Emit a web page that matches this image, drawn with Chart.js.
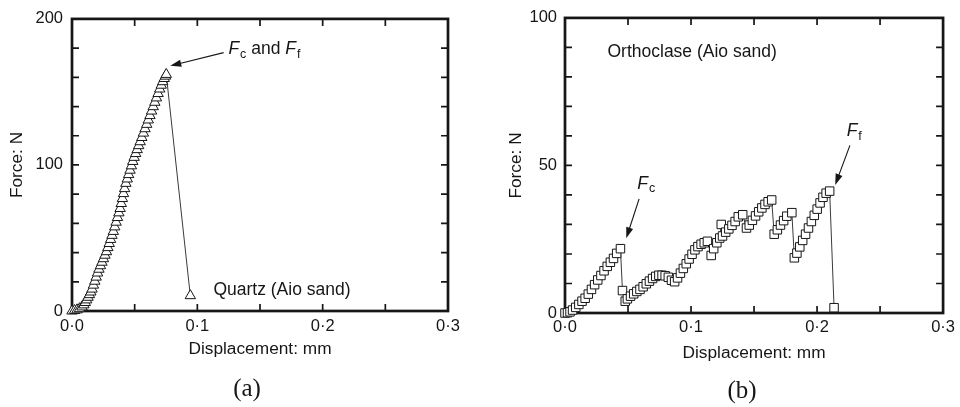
<!DOCTYPE html>
<html><head><meta charset="utf-8">
<script src="https://cdn.jsdelivr.net/npm/chart.js@4.4.0/dist/chart.umd.min.js"></script>
<style>
html,body{margin:0;padding:0;background:#fff;}
#wrap{position:relative;width:960px;height:407px;overflow:hidden;background:#fff;}
canvas{position:absolute;top:0;}
#ca{left:0;} #cb{left:480px;}
</style></head><body>
<div id="wrap"><canvas id="ca" width="480" height="407"></canvas><canvas id="cb" width="480" height="407"></canvas></div>
<script>
// ---- data (displacement mm, force N) ----
const quartzCurve = [
 [0.0000,0.0],[0.0020,0.3],[0.0040,0.8],[0.0060,1.6],[0.0080,2.8],[0.0095,4.2],[0.0106,5.8],[0.0117,7.6],
 [0.0128,9.4],[0.0139,11.2],[0.0150,13.0],[0.0160,15.0],[0.0171,17.7],[0.0182,20.4],[0.0193,23.2],[0.0204,26.0],
 [0.0215,28.6],[0.0227,31.0],[0.0239,33.4],[0.0251,35.8],[0.0263,38.2],[0.0275,40.6],[0.0286,43.4],[0.0297,46.2],
 [0.0308,49.0],[0.0319,51.8],[0.0330,54.5],[0.0341,57.6],[0.0352,60.8],[0.0363,64.0],[0.0374,67.2],[0.0384,70.2],
 [0.0393,73.6],[0.0402,77.0],[0.0411,80.4],[0.0420,83.8],[0.0430,87.4],[0.0441,90.4],[0.0452,93.4],[0.0463,96.4],
 [0.0474,99.4],[0.0485,102.4],[0.0496,105.2],[0.0508,107.8],[0.0520,110.5],[0.0532,113.2],[0.0544,115.9],[0.0557,118.8],
 [0.0570,121.8],[0.0583,124.8],[0.0596,127.8],[0.0609,130.8],[0.0622,133.8],[0.0635,136.9],[0.0648,139.9],[0.0661,142.9],
 [0.0674,145.9],[0.0687,148.9],[0.0700,152.0],[0.0712,154.6],[0.0724,157.0],[0.0736,159.2],[0.0746,160.8],[0.0752,162.0],
 [0.0944,10.5]
];
const orthoclaseCurve = [
 [0.0000,0.0],[0.0020,0.1],[0.0040,0.4],[0.0060,1.0],[0.0085,1.9],[0.0110,2.9],[0.0135,4.0],[0.0160,5.0],
 [0.0185,6.4],[0.0210,8.0],[0.0235,9.6],[0.0260,11.2],[0.0285,12.7],[0.0310,14.3],[0.0335,15.8],[0.0360,17.2],
 [0.0385,18.5],[0.0410,20.2],[0.0440,21.8],
 [0.0456,7.6],[0.0478,4.0],[0.0495,4.8],[0.0520,5.7],[0.0545,6.5],[0.0570,7.3],[0.0595,8.0],[0.0620,8.9],
 [0.0645,9.9],[0.0670,10.8],[0.0695,11.7],[0.0720,12.4],[0.0745,12.8],[0.0770,12.8],[0.0795,12.6],[0.0820,12.1],
 [0.0845,11.1],[0.0870,10.6],[0.0893,11.9],[0.0916,13.5],[0.0939,15.1],[0.0962,16.7],[0.0985,18.3],[0.1008,19.9],
 [0.1031,21.4],[0.1055,22.5],[0.1080,23.3],[0.1105,23.8],[0.1130,24.3],[0.1160,19.5],[0.1180,21.8],[0.1205,23.8],
 [0.1228,25.4],[0.1240,30.0],[0.1250,26.1],[0.1275,27.4],[0.1300,28.5],[0.1325,29.7],[0.1350,31.0],[0.1375,32.6],
 [0.1410,33.3],
 [0.1440,28.8],[0.1462,29.8],[0.1487,31.4],[0.1512,32.9],[0.1537,34.3],[0.1562,35.6],[0.1587,36.8],[0.1612,37.7],
 [0.1640,38.3],
 [0.1660,26.7],[0.1685,28.2],[0.1710,29.8],[0.1735,31.3],[0.1760,32.8],[0.1800,34.0],
 [0.1820,18.7],[0.1840,20.3],[0.1863,22.4],[0.1886,24.6],[0.1909,26.7],[0.1932,28.8],[0.1955,31.0],[0.1978,33.1],
 [0.2001,35.2],[0.2024,37.3],[0.2047,39.2],[0.2072,40.6],[0.2100,41.3],
 [0.2135,1.8]
];
const xTickLabels = ['0·0','0·1','0·2','0·3'];
const yTickLabelsA = ['0','100','200'];
const yTickLabelsB = ['0','50','100'];

const FONT = '"Liberation Sans", Arial, Helvetica, sans-serif';
const INK = '#161616';

function frameTicks(chart){
  const {ctx, chartArea:a, scales:{x,y}} = chart;
  ctx.save();
  ctx.strokeStyle = INK; ctx.lineWidth = 1.7;
  const L = 7;
  ctx.beginPath();
  x.ticks.forEach(t=>{const p=x.getPixelForValue(t.value);
    ctx.moveTo(p,a.bottom);ctx.lineTo(p,a.bottom-L);ctx.moveTo(p,a.top);ctx.lineTo(p,a.top+L);});
  y.ticks.forEach(t=>{const p=y.getPixelForValue(t.value);
    ctx.moveTo(a.left,p);ctx.lineTo(a.left+L,p);ctx.moveTo(a.right,p);ctx.lineTo(a.right-L,p);});
  ctx.stroke();
  ctx.lineWidth = 2.7;
  ctx.strokeRect(a.left,a.top,a.right-a.left,a.bottom-a.top);
  ctx.restore();
}
function arrow(ctx,x1,y1,x2,y2){
  const ang=Math.atan2(y2-y1,x2-x1), hl=11, hw=3.6;
  ctx.save(); ctx.strokeStyle=INK; ctx.fillStyle=INK; ctx.lineWidth=1.1;
  ctx.beginPath(); ctx.moveTo(x1,y1); ctx.lineTo(x2-Math.cos(ang)*hl*0.8,y2-Math.sin(ang)*hl*0.8); ctx.stroke();
  ctx.beginPath(); ctx.moveTo(x2,y2);
  ctx.lineTo(x2-Math.cos(ang)*hl-Math.sin(ang)*hw, y2-Math.sin(ang)*hl+Math.cos(ang)*hw);
  ctx.lineTo(x2-Math.cos(ang)*hl+Math.sin(ang)*hw, y2-Math.sin(ang)*hl-Math.cos(ang)*hw);
  ctx.closePath(); ctx.fill(); ctx.restore();
}
function rich(ctx,parts,x,y){
  ctx.save(); ctx.fillStyle=INK; ctx.textBaseline='middle'; ctx.textAlign='left';
  let cx=x;
  parts.forEach(p=>{
    const size = p.sub?12.5:17.5;
    ctx.font=(p.it?'italic ':'')+size+'px '+FONT;
    ctx.fillText(p.t,cx,y+(p.sub?5:0));
    cx+=ctx.measureText(p.t).width+(p.it?1:0);
  });
  ctx.restore();
}
function text(ctx,t,x,y,font,align){
  ctx.save(); ctx.fillStyle=INK; ctx.font=font; ctx.textAlign=align||'left'; ctx.textBaseline='middle';
  ctx.fillText(t,x,y); ctx.restore();
}

function makeChart(id, pts, style, yMax, yStep, yLabels, yLabelEvery, geom, annotate){
  const xs = pts.map(p=>p[0]), ys = pts.map(p=>p[1]);
  return new Chart(document.getElementById(id), {
    type:'line',
    data:{datasets:[{
      data: xs.map((v,i)=>({x:v,y:ys[i]})),
      borderColor:'#3a3a3a', borderWidth:1, tension:0, fill:false, clip:false,
      pointStyle:style, pointRadius:6, pointBorderColor:INK, pointBorderWidth:1, pointBackgroundColor:'#ffffff'
    }]},
    options:{
      responsive:false, animation:false, devicePixelRatio:1,
      layout:{padding:{top:geom.top,right:geom.right,left:0,bottom:0}},
      plugins:{legend:{display:false},tooltip:{enabled:false}},
      scales:{
        x:{type:'linear',min:0,max:0.3,position:'bottom',
          afterFit(s){s.height=geom.xh;},
          grid:{display:false,drawTicks:false},border:{display:false},
          ticks:{stepSize:0.05,autoSkip:false,maxRotation:0,padding:geom.xpad,color:INK,font:{family:FONT,size:16.5},
            callback(v){const k=Math.round(v*100);return k%10===0?xTickLabels[k/10]:'';}},
          title:{display:true,text:'Displacement: mm',color:INK,font:{family:FONT,size:17.3},padding:{top:0,bottom:geom.xtpad}}},
        y:{type:'linear',min:0,max:yMax,
          afterFit(s){s.width=geom.yw;},
          grid:{display:false,drawTicks:false},border:{display:false},
          ticks:{stepSize:yStep,autoSkip:false,padding:geom.ypad,color:INK,font:{family:FONT,size:16.5},
            callback(v){return Math.round(v)%yLabelEvery===0?yLabels[Math.round(v)/yLabelEvery]:'';}},
          title:{display:true,text:'Force: N',color:INK,font:{family:FONT,size:17.3},padding:{top:geom.ytpad,bottom:0}}}
      }
    },
    plugins:[{id:'frame',beforeDatasetsDraw:frameTicks},{id:'ann',afterDraw:annotate}]
  });
}

makeChart('ca', quartzCurve, 'triangle', 200, 20, yTickLabelsA, 100,
  {top:14,right:32,xh:96,yw:72,xpad:6,ypad:9,xtpad:47.8,ytpad:7.3},
  function(chart){
    const {ctx,scales:{x,y}}=chart;
    arrow(ctx,x.getPixelForValue(0.121),y.getPixelForValue(176.9),x.getPixelForValue(0.0784),y.getPixelForValue(167.9));
    rich(ctx,[{t:'F',it:true},{t:'c',sub:true},{t:' and '},{t:'F',it:true},{t:'f',sub:true}],
      x.getPixelForValue(0.1248),y.getPixelForValue(179));
    text(ctx,'Quartz (Aio sand)',x.getPixelForValue(0.1128),y.getPixelForValue(14.1),'17.5px '+FONT);
    text(ctx,'(a)',247,389,'25px "Liberation Serif", "Times New Roman", serif','center');
  });

makeChart('cb', orthoclaseCurve, 'rect', 100, 10, yTickLabelsB, 50,
  {top:13,right:13,xh:94,yw:85,xpad:5,ypad:8,xtpad:43.8,ytpad:26.3},
  function(chart){
    const {ctx,scales:{x,y}}=chart;
    text(ctx,'Orthoclase (Aio sand)',x.getPixelForValue(0.0337),y.getPixelForValue(88.3),'17.5px '+FONT);
    rich(ctx,[{t:'F',it:true},{t:'c',sub:true}],x.getPixelForValue(0.0573),y.getPixelForValue(43.8));
    arrow(ctx,x.getPixelForValue(0.0588),y.getPixelForValue(38.7),x.getPixelForValue(0.0486),y.getPixelForValue(25.3));
    rich(ctx,[{t:'F',it:true},{t:'f',sub:true}],x.getPixelForValue(0.2235),y.getPixelForValue(61.5));
    arrow(ctx,x.getPixelForValue(0.2261),y.getPixelForValue(56.8),x.getPixelForValue(0.2144),y.getPixelForValue(43.4));
    text(ctx,'(b)',262,391,'25px "Liberation Serif", "Times New Roman", serif','center');
  });
</script>
</body></html>
